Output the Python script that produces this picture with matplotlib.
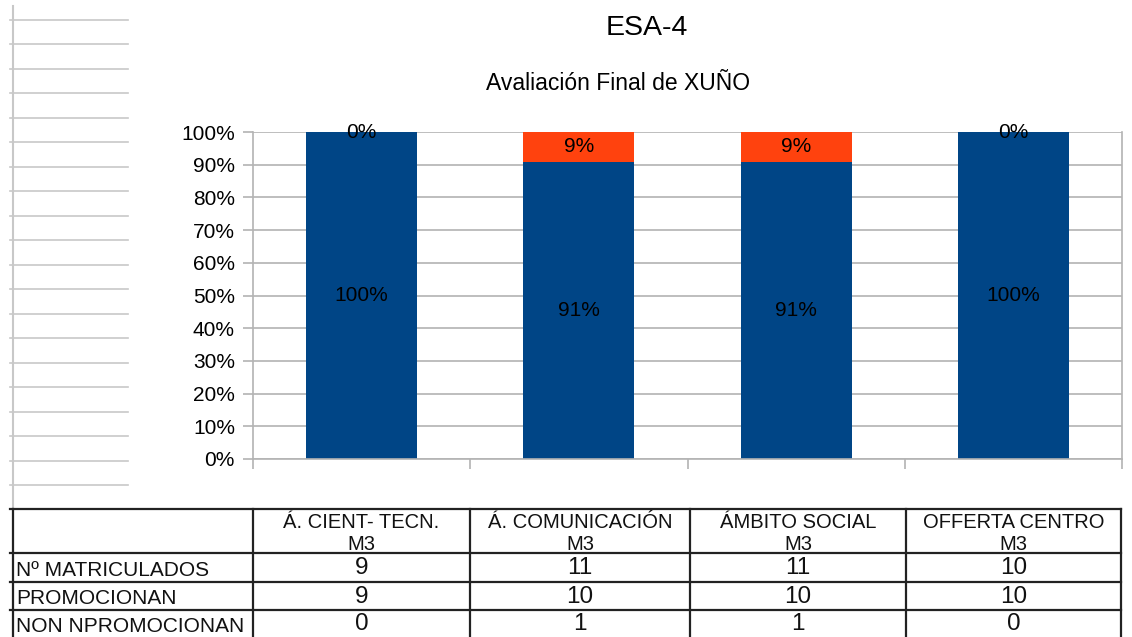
import numpy as np
import matplotlib
matplotlib.use("Agg")
import matplotlib.pyplot as plt

# ------------------------------------------------------------
# Datos

categorias = ["Á. CIENT- TECN.\nM3", "Á. COMUNICACIÓN\nM3",
              "ÁMBITO SOCIAL\nM3", "OFFERTA CENTRO\nM3"]
matriculados = [9, 11, 11, 10]
promocionan = [9, 10, 10, 10]
non_promocionan = [0, 1, 1, 0]
filas = ["Nº MATRICULADOS", "PROMOCIONAN", "NON NPROMOCIONAN"]

titulo = "ESA-4"
subtitulo = "Avaliación Final de XUÑO"

azul = "#004586"
laranxa = "#ff420e"
gris = "#b3b3b3"

plt.rcParams["font.family"] = ["Liberation Sans", "DejaVu Sans"]

W, H = 1132, 637
fig = plt.figure(figsize=(W / 100, H / 100), dpi=100)

# ------------------------------------------------------------
# Fondo tipo folla de cálculo + táboa

bg = fig.add_axes([0, 0, 1, 1])
bg.set_xlim(0, W)
bg.set_ylim(H, 0)
bg.axis("off")

for k in range(20):
    y = 19.5 + 24.5 * k
    bg.plot([10, 128], [y, y], color="#c8c8c8", lw=1.2)
bg.plot([13, 13], [6, H], color="#c8c8c8", lw=1.5)

cols = [13, 253, 470, 690, 906, 1121]
rows = [509, 553, 582, 610, 637]
for y in rows[:-1]:
    bg.plot([10, cols[-1]], [y, y], color="#222222", lw=1.6)
for x in cols:
    bg.plot([x, x], [rows[0], H], color="#222222", lw=1.6)

for i, cat in enumerate(categorias):
    cx = (cols[i + 1] + cols[i + 2]) / 2
    bg.text(cx, (rows[0] + rows[1]) / 2 + 2, cat, ha="center", va="center",
            fontsize=14.5, linespacing=1.2, color="#111111")

valores = [matriculados, promocionan, non_promocionan]
for r, (nome, vals) in enumerate(zip(filas, valores)):
    cy = (rows[r + 1] + rows[r + 2]) / 2
    bg.text(16, cy + 3, nome, ha="left", va="center", fontsize=15, color="#111111")
    for i, v in enumerate(vals):
        cx = (cols[i + 1] + cols[i + 2]) / 2
        bg.text(cx, cy + 1, str(v), ha="center", va="center", fontsize=17.5,
                color="#111111")

bg.text(647, 28, titulo, ha="center", va="center", fontsize=20.5)
bg.text(618, 84, subtitulo, ha="center", va="center", fontsize=16.5)

# ------------------------------------------------------------
# Gráfico de barras apiladas 100%

ax = fig.add_axes([253 / W, (H - 459) / H, 869 / W, 327 / H])
ax.set_zorder(2)
ax.patch.set_alpha(0)

x = np.arange(len(categorias))
pct_prom = np.array(promocionan) / np.array(matriculados) * 100
pct_non = np.array(non_promocionan) / np.array(matriculados) * 100

ax.bar(x, pct_prom, width=0.51, color=azul, zorder=2)
ax.bar(x, pct_non, width=0.51, bottom=pct_prom, color=laranxa, zorder=2)

for i in range(len(x)):
    ax.text(x[i], pct_prom[i] / 2, f"{pct_prom[i]:.0f}%", ha="center",
            va="center", fontsize=15, zorder=3)
    ax.text(x[i], pct_prom[i] + pct_non[i] / 2, f"{pct_non[i]:.0f}%",
            ha="center", va="center", fontsize=15, zorder=3)

ax.set_xlim(-0.5, len(x) - 0.5)
ax.set_ylim(0, 100)
ax.set_yticks(np.arange(0, 101, 10))
ax.set_yticklabels([f"{v}%" for v in range(0, 101, 10)], fontsize=15)
ax.set_xticks(np.arange(-0.5, len(x), 1))
ax.set_xticklabels([])
ax.tick_params(axis="both", color=gris, length=7, width=1.2, pad=6)
ax.yaxis.grid(True, color=gris, lw=1.2, zorder=0)
for s in ax.spines.values():
    s.set_color(gris)
    s.set_linewidth(1.2)
ax.spines["top"].set_visible(False)

plt.savefig("out.png", dpi=100)
